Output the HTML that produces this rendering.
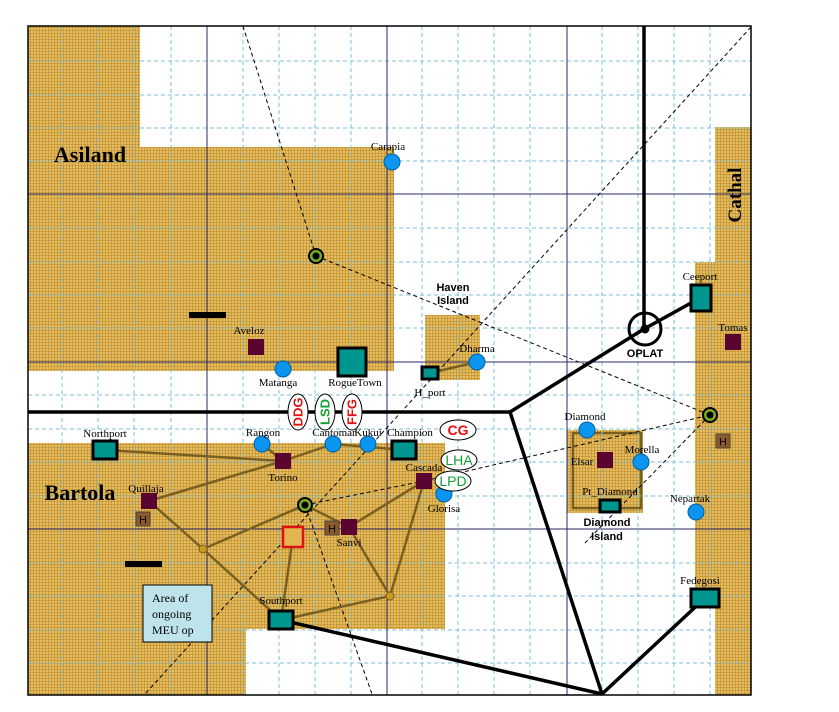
<!DOCTYPE html>
<html><head><meta charset="utf-8"><style>
html,body{margin:0;padding:0;background:#fff;}
svg{display:block;font-family:"Liberation Serif",serif;}
.lbl{font-size:11px;fill:#000;text-anchor:middle;}
.ar{font-family:"Liberation Sans",sans-serif;font-weight:bold;font-size:11px;text-anchor:middle;}
</style></head><body>
<svg width="839" height="712" viewBox="0 0 839 712">
<defs>
<pattern id="tan" width="3" height="3" patternUnits="userSpaceOnUse">
<rect width="3" height="3" fill="#e6be62"/>
<path d="M0 0.5H3M0.5 0V3" stroke="#c49433" stroke-width="0.8"/>
</pattern>
</defs>
<rect width="839" height="712" fill="#fff"/>
<g fill="url(#tan)">
<rect x="28" y="26" width="112" height="122"/>
<rect x="28" y="147" width="366" height="224"/>
</g>
<rect x="425" y="315" width="55" height="65" fill="url(#tan)"/>
<g fill="url(#tan)">
<rect x="28" y="443" width="417" height="186"/>
<rect x="28" y="628" width="218" height="67"/>
</g>
<g fill="url(#tan)">
<rect x="715" y="127" width="36" height="568"/>
<rect x="695" y="262" width="56" height="343"/>
</g>
<rect x="567" y="430" width="76" height="83" fill="url(#tan)"/>
<rect x="573" y="433" width="68" height="75" fill="none" stroke="#7a6020" stroke-width="2.5"/>
<g id="grid"></g>
<rect x="28" y="26" width="723" height="669" fill="none" stroke="#000" stroke-width="1.5"/>
<g stroke="#000" stroke-width="1" stroke-dasharray="4,3" fill="none">
<line x1="751" y1="27" x2="145" y2="694"/>
<line x1="243" y1="26" x2="316" y2="256"/>
<line x1="316" y1="256" x2="710" y2="415"/>
<line x1="305" y1="505" x2="372" y2="694"/>
<line x1="305" y1="505" x2="424" y2="481"/>
<line x1="424" y1="481" x2="710" y2="415"/>
<line x1="710" y1="415" x2="583" y2="545"/>
</g>
<g stroke="#000" stroke-width="3.5" fill="none">
<line x1="644" y1="26" x2="644" y2="329"/>
<line x1="644" y1="329" x2="700" y2="298"/>
<line x1="644" y1="329" x2="510" y2="412"/>
<line x1="28" y1="412" x2="510" y2="412"/>
<line x1="510" y1="412" x2="602" y2="694"/>
<line x1="602" y1="694" x2="281" y2="620"/>
<line x1="602" y1="694" x2="705" y2="598"/>
</g>
<circle cx="645" cy="329" r="16" fill="none" stroke="#000" stroke-width="3"/>
<circle cx="645" cy="329" r="4.5" fill="#000"/>
<g stroke="#7a6020" stroke-width="2.5" fill="none">
<line x1="105" y1="450" x2="283" y2="461"/>
<line x1="149" y1="501" x2="283" y2="461"/>
<line x1="262" y1="444" x2="283" y2="461"/>
<line x1="283" y1="461" x2="333" y2="444"/>
<line x1="333" y1="444" x2="404" y2="450"/>
<line x1="149" y1="501" x2="203" y2="549"/>
<line x1="203" y1="549" x2="281" y2="620"/>
<line x1="203" y1="549" x2="305" y2="505"/>
<line x1="305" y1="505" x2="349" y2="527"/>
<line x1="349" y1="527" x2="424" y2="481"/>
<line x1="424" y1="481" x2="390" y2="596"/>
<line x1="390" y1="596" x2="349" y2="527"/>
<line x1="390" y1="596" x2="281" y2="620"/>
<line x1="281" y1="620" x2="293" y2="537"/>
<line x1="430" y1="373" x2="477" y2="362"/>
</g>
<circle cx="203" cy="549" r="4" fill="#c99a1c" stroke="#7a6020"/>
<circle cx="390" cy="596" r="4" fill="#c99a1c" stroke="#7a6020"/>
<rect x="283" y="527" width="20" height="20" fill="#e3b550" stroke="#e01010" stroke-width="2.5"/>
<rect x="189" y="312" width="37" height="6" fill="#000"/>
<rect x="125" y="561" width="37" height="6" fill="#000"/>
<g id="marks"></g>
<text x="90" y="162" font-size="22" font-weight="bold" text-anchor="middle">Asiland</text>
<text x="80" y="500" font-size="22" font-weight="bold" text-anchor="middle">Bartola</text>
<text transform="translate(741,195) rotate(-90)" font-size="19" font-weight="bold" text-anchor="middle">Cathal</text>
<text class="ar" x="453" y="291">Haven</text>
<text class="ar" x="453" y="304">Island</text>
<text class="ar" x="645" y="357">OPLAT</text>
<text class="ar" x="607" y="526">Diamond</text>
<text class="ar" x="607" y="540">Island</text>
<g>
<rect x="143" y="585" width="69" height="57" fill="#bfe3ea" stroke="#000" stroke-width="1"/>
<text x="152" y="602" font-size="12">Area of</text>
<text x="152" y="618" font-size="12">ongoing</text>
<text x="152" y="634" font-size="12">MEU op</text>
</g>
<script>
const NS="http://www.w3.org/2000/svg";
const gridX=[62,98,134,171,243,279,315,351,422,458,494,530,602,638,674,710];
const gridY=[61,95,128,161,228,262,295,328,395,429,462,496,563,596,630,663];
const navyX=[207,387,567];
const navyY=[194,362,529];
const g=document.getElementById('grid');
function ln(x1,y1,x2,y2,st,w,da){const l=document.createElementNS(NS,'line');l.setAttribute('x1',x1);l.setAttribute('y1',y1);l.setAttribute('x2',x2);l.setAttribute('y2',y2);l.setAttribute('stroke',st);l.setAttribute('stroke-width',w);if(da)l.setAttribute('stroke-dasharray',da);g.appendChild(l);return l;}
gridX.forEach(x=>ln(x,26,x,695,'#7cc2d8',1,'4,3'));
gridY.forEach(y=>ln(28,y,751,y,'#7cc2d8',1,'4,3'));
navyX.forEach(x=>ln(x,26,x,695,'#2a2a6a',1));
navyY.forEach(y=>ln(28,y,751,y,'#2a2a6a',1));
const m=document.getElementById('marks');
function el(t,a){const e=document.createElementNS(NS,t);for(const k in a)e.setAttribute(k,a[k]);m.appendChild(e);return e;}
function label(txt,x,y){const t=el('text',{x:x,y:y,class:'lbl'});t.textContent=txt;return t;}
const circles=[["Carapia",392,162,388,150],["Matanga",283,369,278,386],["Dharma",477,362,477,352],["Rangon",262,444,263,436],["Cantomar",333,444,334,436],["Kukui",368,444,368,436],["Glorisa",444,494,444,512],["Diamond",587,430,585,420],["Morella",641,462,642,453],["Nepartak",696,512,690,502]];
circles.forEach(c=>{const e=el('circle',{cx:c[1],cy:c[2],r:8,fill:'#0a96f0',stroke:'#0060a0','stroke-width':1});


label(c[0],c[3],c[4]);});
const ports=[["RogueTown",352,362,14,14,355,386],["H_port",430,373,8,6,430,396],["Ceeport",701,298,10,13,700,280],["Northport",105,450,12,9,105,437],["Champion",404,450,12,9,410,436],["Southport",281,620,12,9,281,604],["Pt_Diamond",610,506,10,6,610,495],["Fedegosi",705,598,14,9,700,584]];
ports.forEach(p=>{const e=el('rect',{x:p[1]-p[3],y:p[2]-p[4],width:p[3]*2,height:p[4]*2,fill:'#009690',stroke:'#000','stroke-width':3});


label(p[0],p[5],p[6]);});
const cities=[["Aveloz",256,347,249,334],["Tomas",733,342,733,331],["Torino",283,461,283,481],["Quillaja",149,501,146,492],["Cascada",424,481,424,471],["Sanvi",349,527,349,546],["Elsar",605,460,582,465]];
cities.forEach(c=>{const e=el('rect',{x:c[1]-8,y:c[2]-8,width:16,height:16,fill:'#5a0530'});


label(c[0],c[3],c[4]);});
[[316,256],[305,505],[710,415]].forEach(p=>{const e=el('circle',{cx:p[0],cy:p[1],r:7,fill:'#7aaa20',stroke:'#000','stroke-width':2});


el('circle',{cx:p[0],cy:p[1],r:3.5,fill:'#000'});});
[[143,519],[332,528],[723,441]].forEach(p=>{const e=el('rect',{x:p[0]-7,y:p[1]-7,width:14,height:14,fill:'#8a5a2a',stroke:'#444','stroke-width':1});


const t=el('text',{x:p[0],y:p[1]+4.5,'text-anchor':'middle','font-size':'11','font-family':'Liberation Sans,sans-serif',fill:'#000'});t.textContent='H';});
const vert=[["DDG",298,412,'#e01010'],["LSD",325,412,'#10a030'],["FFG",352,412,'#e01010']];
vert.forEach(s=>{const e=el('ellipse',{cx:s[1],cy:s[2],rx:10,ry:18,fill:'#fff',stroke:'#000'});


const t=el('text',{transform:`translate(${s[1]+4.5},${s[2]}) rotate(-90)`,'text-anchor':'middle','font-size':'13','font-weight':'bold','font-family':'Liberation Sans,sans-serif',fill:s[3]});t.textContent=s[0];});
const hor=[["CG",458,430,'#e01010'],["LHA",459,460,'#10a030'],["LPD",453,481,'#10a030']];
hor.forEach(s=>{const e=el('ellipse',{cx:s[1],cy:s[2],rx:18,ry:10,fill:'#fff',stroke:'#000'});


const t=el('text',{x:s[1],y:s[2]+5,'text-anchor':'middle','font-size':'14','font-weight':s[0]=='CG'?'bold':'normal','font-family':'Liberation Sans,sans-serif',fill:s[3]});t.textContent=s[0];});
</script>
</svg>
</body></html>
